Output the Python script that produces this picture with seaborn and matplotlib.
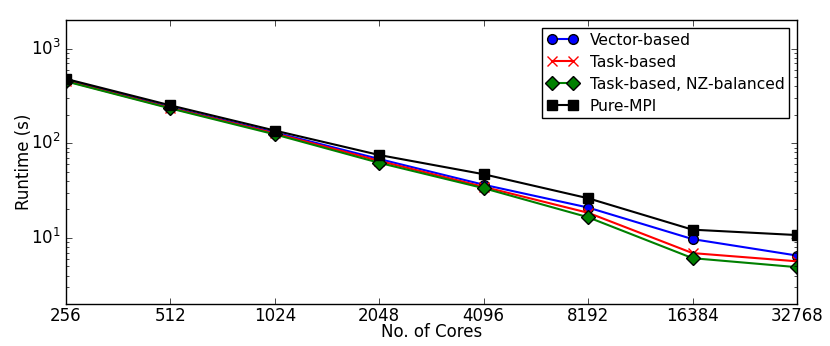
import matplotlib
matplotlib.use('Agg')
import matplotlib.pyplot as plt
import matplotlib.ticker as mticker
import seaborn as sns

# runtime (s) per core count
cores = [256, 512, 1024, 2048, 4096, 8192, 16384, 32768]
vector_based = [465, 240, 130, 68, 36.4, 20.9, 9.7, 6.5]
task_based = [455, 236, 127, 65, 34.6, 18.4, 6.9, 5.65]
task_nz_balanced = [450, 233, 124, 62, 33.5, 16.5, 6.1, 4.9]
pure_mpi = [478, 251, 136, 75, 47, 26.2, 12.2, 10.7]

plt.style.use('classic')
plt.rcParams['font.family'] = ['DejaVu Sans']

fig = plt.figure(figsize=(8.3, 3.46), dpi=100, facecolor='white')
ax = fig.add_axes([0.0795, 0.1214, 0.8807, 0.8206])

series = [
    ('Vector-based', vector_based, 'blue', 'o'),
    ('Task-based', task_based, 'red', 'x'),
    ('Task-based, NZ-balanced', task_nz_balanced, 'green', 'D'),
    ('Pure-MPI', pure_mpi, 'black', 's'),
]
for name, vals, col, mk in series:
    sns.lineplot(x=cores, y=vals, ax=ax, color=col, marker=mk, markersize=7,
                 markeredgecolor='red' if mk == 'x' else 'black',
                 markeredgewidth=1, linewidth=1.5, label=name)

ax.set_xscale('log', base=2)
ax.set_yscale('log')
ax.set_xlim(256, 32768)
ax.set_ylim(2, 2000)
ax.xaxis.set_major_locator(mticker.FixedLocator(cores))
ax.xaxis.set_major_formatter(mticker.FixedFormatter([str(c) for c in cores]))
ax.xaxis.set_minor_locator(mticker.NullLocator())
ax.tick_params(axis='x', pad=2)

ax.set_xlabel('No. of Cores', labelpad=-1)
ax.set_ylabel('Runtime (s)', labelpad=-2)

leg = ax.legend(loc='upper right', numpoints=2, fancybox=False, fontsize=11.2,
                borderaxespad=0.5, handlelength=2.0, labelspacing=0.45,
                borderpad=0.3, handletextpad=0.75)
leg.get_frame().set_edgecolor('black')

fig.savefig('out.png', dpi=100, facecolor='white')
